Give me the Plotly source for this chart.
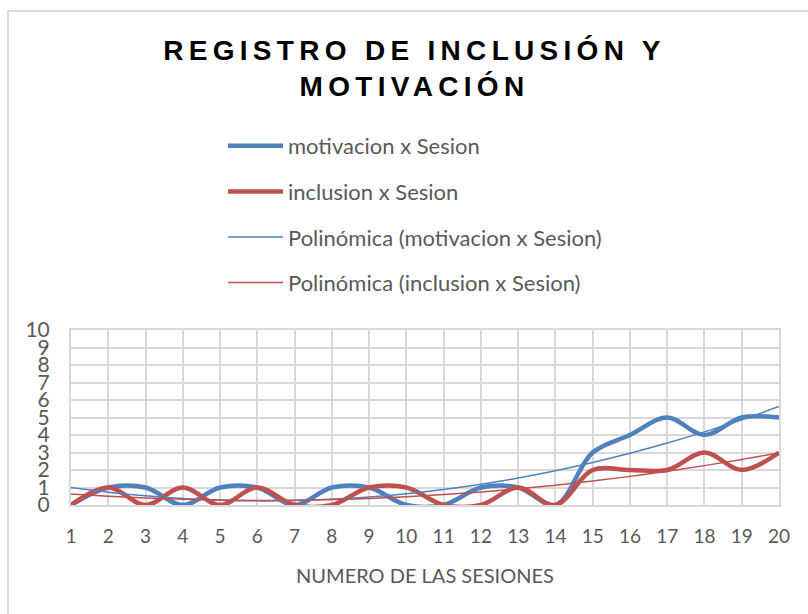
import numpy as np
import plotly.graph_objects as go

sesiones = list(range(1, 21))
motivacion = [0, 1, 1, 0, 1, 1, 0, 1, 1, 0, 0, 1, 1, 0, 3, 4, 5, 4, 5, 5]
inclusion = [0, 1, 0, 1, 0, 1, 0, 0, 1, 1, 0, 0, 1, 0, 2, 2, 2, 3, 2, 3]

BLUE = "#4F81BD"
RED = "#C0504D"
GRAY_TXT = "#595959"
GRID = "#D9D9D9"

x = np.array(sesiones, dtype=float)
fit_m = np.polyval(np.polyfit(x, motivacion, 2), x)
fit_i = np.polyval(np.polyfit(x, inclusion, 2), x)

fig = go.Figure()
fig.add_trace(go.Scatter(x=sesiones, y=motivacion, mode="lines", name="motivacion x Sesion",
                         line=dict(color=BLUE, width=4.5, shape="spline", smoothing=1),
                         legendgroup="a"))
fig.add_trace(go.Scatter(x=sesiones, y=inclusion, mode="lines", name="inclusion x Sesion",
                         line=dict(color=RED, width=4.5, shape="spline", smoothing=1),
                         legendgroup="b"))
fig.add_trace(go.Scatter(x=sesiones, y=fit_m, mode="lines", name="Polinómica (motivacion x Sesion)",
                         line=dict(color=BLUE, width=1.5, shape="spline"), legendgroup="c"))
fig.add_trace(go.Scatter(x=sesiones, y=fit_i, mode="lines", name="Polinómica (inclusion x Sesion)",
                         line=dict(color=RED, width=1.5, shape="spline"), legendgroup="d"))

fig.update_layout(
    width=808, height=614,
    margin=dict(l=71, r=29, t=330, b=109, autoexpand=False),
    paper_bgcolor="white", plot_bgcolor="white",
    title=dict(text="REGISTRO DE INCLUSIÓN Y<br>MOTIVACIÓN",
               font=dict(family="Liberation Sans", size=28, color="black", weight="bold"),
               x=0.513, xanchor="center", xref="container",
               y=1 - 60 / 614, yanchor="top", yref="container"),
    legend=dict(x=223 / 808, xref="container", xanchor="left",
                y=1 - 125 / 614, yref="container", yanchor="top",
                font=dict(family="Lato", size=22, color=GRAY_TXT),
                tracegroupgap=14, itemwidth=55, bgcolor="rgba(0,0,0,0)"),
    font=dict(family="Lato", color=GRAY_TXT),
    shapes=[dict(type="rect", xref="paper", yref="paper",
                 x0=(8 - 71) / 708, x1=(830 - 71) / 708,
                 y0=(505 - 640) / 175, y1=(505 - 11) / 175,
                 line=dict(color=GRID, width=2), layer="below")],
)

fig.update_xaxes(range=[1, 20], tickmode="linear", tick0=1, dtick=1,
                 showgrid=True, gridcolor=GRID, gridwidth=2,
                 showline=True, linecolor=GRID, linewidth=2, mirror=True,
                 zeroline=False, ticks="", ticklabelstandoff=13,
                 tickfont=dict(family="Lato", size=19, color=GRAY_TXT),
                 title=dict(text="NUMERO DE LAS SESIONES", standoff=23,
                            font=dict(family="Lato", size=20, color=GRAY_TXT)))
fig.update_yaxes(range=[0, 10], tickmode="linear", tick0=0, dtick=1,
                 showgrid=True, gridcolor=GRID, gridwidth=2,
                 showline=True, linecolor=GRID, linewidth=2, mirror=True,
                 zeroline=False, ticks="", ticklabelstandoff=15,
                 tickfont=dict(family="Lato", size=21, color=GRAY_TXT))

post = """
document.body.style.margin = '0';
document.querySelectorAll('.gtitle').forEach(function(t){t.style.letterSpacing='5.3px';});
"""
fig.write_html("out.html", post_script=post, config={"displayModeBar": False})
